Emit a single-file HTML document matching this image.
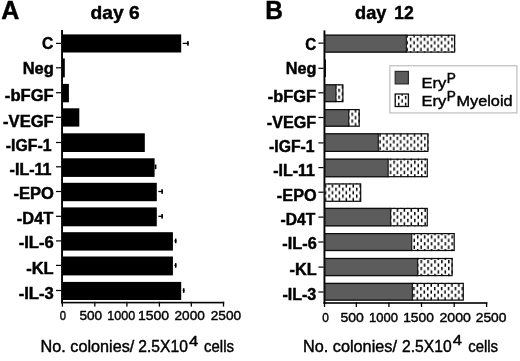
<!DOCTYPE html>
<html><head><meta charset="utf-8"><title>Figure</title>
<style>html,body{margin:0;padding:0;background:#fff}svg{display:block}text{font-family:"Liberation Sans",sans-serif}</style></head><body>
<svg width="520" height="361" viewBox="0 0 520 361">
<rect width="520" height="361" fill="#fff"/>
<filter id="soft" x="0" y="0" width="520" height="361" filterUnits="userSpaceOnUse"><feGaussianBlur stdDeviation="0.4"/></filter>
<g filter="url(#soft)">
<rect width="520" height="361" fill="#fff"/>
<rect x="61.10" y="30.00" width="1.9" height="273.40" fill="#000"/>
<rect x="61.10" y="301.80" width="163.10" height="1.6" fill="#000"/>
<rect x="61.75" y="301.80" width="1.3" height="4.8" fill="#000"/>
<rect x="94.15" y="301.80" width="1.3" height="4.8" fill="#000"/>
<rect x="126.25" y="301.80" width="1.3" height="4.8" fill="#000"/>
<rect x="158.75" y="301.80" width="1.3" height="4.8" fill="#000"/>
<rect x="190.65" y="301.80" width="1.3" height="4.8" fill="#000"/>
<rect x="222.85" y="301.80" width="1.3" height="4.8" fill="#000"/>
<rect x="56.00" y="42.80" width="5.2" height="1.2" fill="#000"/>
<rect x="56.00" y="67.20" width="5.2" height="1.2" fill="#000"/>
<rect x="56.00" y="92.10" width="5.2" height="1.2" fill="#000"/>
<rect x="56.00" y="116.70" width="5.2" height="1.2" fill="#000"/>
<rect x="56.00" y="141.90" width="5.2" height="1.2" fill="#000"/>
<rect x="56.00" y="166.20" width="5.2" height="1.2" fill="#000"/>
<rect x="56.00" y="190.90" width="5.2" height="1.2" fill="#000"/>
<rect x="56.00" y="215.70" width="5.2" height="1.2" fill="#000"/>
<rect x="56.00" y="240.30" width="5.2" height="1.2" fill="#000"/>
<rect x="56.00" y="264.80" width="5.2" height="1.2" fill="#000"/>
<rect x="56.00" y="289.90" width="5.2" height="1.2" fill="#000"/>
<rect x="62.00" y="34.40" width="119.20" height="18.10" fill="#000"/>
<rect x="182.70" y="42.75" width="6.00" height="1.3" fill="#000"/>
<rect x="187.10" y="41.10" width="1.6" height="4.6" fill="#000"/>
<rect x="62.00" y="58.40" width="2.80" height="19.00" fill="#000"/>
<rect x="62.00" y="83.90" width="6.90" height="18.40" fill="#000"/>
<rect x="62.00" y="108.30" width="17.30" height="18.30" fill="#000"/>
<rect x="62.00" y="133.30" width="82.80" height="18.70" fill="#000"/>
<rect x="62.00" y="158.30" width="92.60" height="18.60" fill="#000"/>
<rect x="154.80" y="164.50" width="1.6" height="4.6" fill="#000"/>
<rect x="62.00" y="182.80" width="94.80" height="18.40" fill="#000"/>
<rect x="158.30" y="190.85" width="4.60" height="1.3" fill="#000"/>
<rect x="161.30" y="189.20" width="1.6" height="4.6" fill="#000"/>
<rect x="62.00" y="207.40" width="94.80" height="18.90" fill="#000"/>
<rect x="158.30" y="215.65" width="4.60" height="1.3" fill="#000"/>
<rect x="161.30" y="214.00" width="1.6" height="4.6" fill="#000"/>
<rect x="62.00" y="232.20" width="110.90" height="18.40" fill="#000"/>
<rect x="174.40" y="240.25" width="2.10" height="1.3" fill="#000"/>
<rect x="174.90" y="238.60" width="1.6" height="4.6" fill="#000"/>
<rect x="62.00" y="256.50" width="110.90" height="18.90" fill="#000"/>
<rect x="174.40" y="264.75" width="2.10" height="1.3" fill="#000"/>
<rect x="174.90" y="263.10" width="1.6" height="4.6" fill="#000"/>
<rect x="62.00" y="281.90" width="119.20" height="18.10" fill="#000"/>
<rect x="182.70" y="289.85" width="1.80" height="1.3" fill="#000"/>
<rect x="182.90" y="288.20" width="1.6" height="4.6" fill="#000"/>
<text transform="translate(41.90,49.10) scale(1.0031,1)" font-size="15.60" font-weight="bold" fill="#000" stroke="#000" stroke-width="0.45">C</text>
<text transform="translate(22.71,73.60) scale(1.0574,1)" font-size="15.60" font-weight="bold" fill="#000" stroke="#000" stroke-width="0.45">Neg</text>
<text transform="translate(4.86,100.70) scale(1.0652,1)" font-size="15.60" font-weight="bold" fill="#000" stroke="#000" stroke-width="0.45">-bFGF</text>
<text transform="translate(3.06,127.00) scale(1.0637,1)" font-size="15.60" font-weight="bold" fill="#000" stroke="#000" stroke-width="0.45">-VEGF</text>
<text transform="translate(5.79,151.00) scale(1.0150,1)" font-size="15.60" font-weight="bold" fill="#000" stroke="#000" stroke-width="0.45">-IGF-1</text>
<text transform="translate(9.58,174.80) scale(1.0299,1)" font-size="15.60" font-weight="bold" fill="#000" stroke="#000" stroke-width="0.45">-IL-11</text>
<text transform="translate(13.46,199.30) scale(1.0596,1)" font-size="15.60" font-weight="bold" fill="#000" stroke="#000" stroke-width="0.45">-EPO</text>
<text transform="translate(16.87,224.30) scale(1.0519,1)" font-size="15.60" font-weight="bold" fill="#000" stroke="#000" stroke-width="0.45">-D4T</text>
<text transform="translate(18.66,248.20) scale(1.0663,1)" font-size="15.60" font-weight="bold" fill="#000" stroke="#000" stroke-width="0.45">-IL-6</text>
<text transform="translate(26.16,273.90) scale(1.0590,1)" font-size="15.60" font-weight="bold" fill="#000" stroke="#000" stroke-width="0.45">-KL</text>
<text transform="translate(18.66,299.30) scale(1.0663,1)" font-size="15.60" font-weight="bold" fill="#000" stroke="#000" stroke-width="0.45">-IL-3</text>
<text transform="translate(59.76,320.40) scale(0.8346,1)" font-size="13.50" fill="#000" stroke="#000" stroke-width="0.42">0</text>
<text transform="translate(79.46,320.40) scale(1.0100,1)" font-size="13.50" fill="#000" stroke="#000" stroke-width="0.42">500</text>
<text transform="translate(107.37,320.40) scale(0.9296,1)" font-size="13.50" fill="#000" stroke="#000" stroke-width="0.42">1000</text>
<text transform="translate(137.96,320.40) scale(1.0384,1)" font-size="13.50" fill="#000" stroke="#000" stroke-width="0.42">1500</text>
<text transform="translate(174.53,320.40) scale(1.0089,1)" font-size="13.50" fill="#000" stroke="#000" stroke-width="0.42">2000</text>
<text transform="translate(210.73,320.40) scale(1.0124,1)" font-size="13.50" fill="#000" stroke="#000" stroke-width="0.42">2500</text>
<text transform="translate(40.57,351.80) scale(1.0145,1)" font-size="16.00" fill="#000" stroke="#000" stroke-width="0.42">No. colonies/</text>
<text transform="translate(138.33,351.80) scale(0.9777,1)" font-size="16.00" fill="#000" stroke="#000" stroke-width="0.42">2.5X10</text>
<text transform="translate(189.04,345.80) scale(1.1604,1)" font-size="14.30" fill="#000" stroke="#000" stroke-width="0.42">4</text>
<text transform="translate(204.07,351.80) scale(0.9356,1)" font-size="16.00" fill="#000" stroke="#000" stroke-width="0.42">cells</text>
<text transform="translate(1.20,18.70) scale(1.0000,1)" font-size="25.00" font-weight="bold" fill="#000" stroke="#000" stroke-width="0.45">A</text>
<text transform="translate(90.56,18.90) scale(1.0557,1)" font-size="18.20" font-weight="bold" fill="#000" stroke="#000" stroke-width="0.45">day 6</text>
<rect x="323.50" y="30.40" width="1.9" height="273.40" fill="#000"/>
<rect x="323.50" y="302.20" width="163.80" height="1.6" fill="#000"/>
<rect x="323.85" y="302.20" width="1.3" height="4.8" fill="#000"/>
<rect x="355.65" y="302.20" width="1.3" height="4.8" fill="#000"/>
<rect x="388.25" y="302.20" width="1.3" height="4.8" fill="#000"/>
<rect x="420.85" y="302.20" width="1.3" height="4.8" fill="#000"/>
<rect x="453.55" y="302.20" width="1.3" height="4.8" fill="#000"/>
<rect x="485.95" y="302.20" width="1.3" height="4.8" fill="#000"/>
<rect x="318.40" y="42.50" width="5.2" height="1.2" fill="#000"/>
<rect x="318.40" y="67.70" width="5.2" height="1.2" fill="#000"/>
<rect x="318.40" y="92.20" width="5.2" height="1.2" fill="#000"/>
<rect x="318.40" y="116.90" width="5.2" height="1.2" fill="#000"/>
<rect x="318.40" y="142.30" width="5.2" height="1.2" fill="#000"/>
<rect x="318.40" y="167.00" width="5.2" height="1.2" fill="#000"/>
<rect x="318.40" y="191.60" width="5.2" height="1.2" fill="#000"/>
<rect x="318.40" y="216.50" width="5.2" height="1.2" fill="#000"/>
<rect x="318.40" y="241.40" width="5.2" height="1.2" fill="#000"/>
<rect x="318.40" y="266.50" width="5.2" height="1.2" fill="#000"/>
<rect x="318.40" y="291.40" width="5.2" height="1.2" fill="#000"/>
<pattern id="d0" patternUnits="userSpaceOnUse" x="409.85" y="37.65" width="6.90" height="6.82"><rect x="0" y="0" width="1.50" height="3.30" fill="#000"/><rect x="3.45" y="3.41" width="1.50" height="3.30" fill="#000"/></pattern>
<rect x="406.30" y="34.60" width="48.90" height="18.10" fill="#fff"/>
<rect x="406.30" y="34.60" width="48.90" height="18.10" fill="url(#d0)"/>
<rect x="324.90" y="34.60" width="81.40" height="18.10" fill="#5c5c5c"/>
<rect x="405.68" y="34.60" width="1.25" height="18.10" fill="#1a1a1a"/>
<rect x="324.90" y="35.23" width="129.68" height="16.85" fill="none" stroke="#111" stroke-width="1.25"/>
<rect x="324.40" y="59.60" width="1.50" height="17.40" fill="#000"/>
<pattern id="d2" patternUnits="userSpaceOnUse" x="338.35" y="88.75" width="6.90" height="6.82"><rect x="0" y="0" width="1.50" height="3.30" fill="#000"/><rect x="3.45" y="3.41" width="1.50" height="3.30" fill="#000"/></pattern>
<rect x="335.90" y="84.20" width="7.60" height="18.00" fill="#fff"/>
<rect x="335.90" y="84.20" width="7.60" height="18.00" fill="url(#d2)"/>
<rect x="324.90" y="84.20" width="11.00" height="18.00" fill="#5c5c5c"/>
<rect x="335.27" y="84.20" width="1.25" height="18.00" fill="#1a1a1a"/>
<rect x="324.90" y="84.83" width="17.98" height="16.75" fill="none" stroke="#111" stroke-width="1.25"/>
<pattern id="d3" patternUnits="userSpaceOnUse" x="351.45" y="112.65" width="6.90" height="6.82"><rect x="0" y="0" width="1.50" height="3.30" fill="#000"/><rect x="3.45" y="3.41" width="1.50" height="3.30" fill="#000"/></pattern>
<rect x="348.70" y="109.00" width="11.10" height="17.80" fill="#fff"/>
<rect x="348.70" y="109.00" width="11.10" height="17.80" fill="url(#d3)"/>
<rect x="324.90" y="109.00" width="23.80" height="17.80" fill="#5c5c5c"/>
<rect x="348.07" y="109.00" width="1.25" height="17.80" fill="#1a1a1a"/>
<rect x="324.90" y="109.62" width="34.28" height="16.55" fill="none" stroke="#111" stroke-width="1.25"/>
<pattern id="d4" patternUnits="userSpaceOnUse" x="382.75" y="136.75" width="6.90" height="6.82"><rect x="0" y="0" width="1.50" height="3.30" fill="#000"/><rect x="3.45" y="3.41" width="1.50" height="3.30" fill="#000"/></pattern>
<rect x="378.30" y="133.20" width="50.20" height="18.80" fill="#fff"/>
<rect x="378.30" y="133.20" width="50.20" height="18.80" fill="url(#d4)"/>
<rect x="324.90" y="133.20" width="53.40" height="18.80" fill="#5c5c5c"/>
<rect x="377.68" y="133.20" width="1.25" height="18.80" fill="#1a1a1a"/>
<rect x="324.90" y="133.82" width="102.98" height="17.55" fill="none" stroke="#111" stroke-width="1.25"/>
<pattern id="d5" patternUnits="userSpaceOnUse" x="393.35" y="160.55" width="6.90" height="6.82"><rect x="0" y="0" width="1.50" height="3.30" fill="#000"/><rect x="3.45" y="3.41" width="1.50" height="3.30" fill="#000"/></pattern>
<rect x="388.10" y="158.60" width="39.80" height="18.70" fill="#fff"/>
<rect x="388.10" y="158.60" width="39.80" height="18.70" fill="url(#d5)"/>
<rect x="324.90" y="158.60" width="63.20" height="18.70" fill="#5c5c5c"/>
<rect x="387.48" y="158.60" width="1.25" height="18.70" fill="#1a1a1a"/>
<rect x="324.90" y="159.22" width="102.38" height="17.45" fill="none" stroke="#111" stroke-width="1.25"/>
<pattern id="d6" patternUnits="userSpaceOnUse" x="328.35" y="187.65" width="6.90" height="6.82"><rect x="0" y="0" width="1.50" height="3.30" fill="#000"/><rect x="3.45" y="3.41" width="1.50" height="3.30" fill="#000"/></pattern>
<rect x="324.90" y="183.30" width="36.40" height="18.60" fill="#fff"/>
<rect x="324.90" y="183.30" width="36.40" height="18.60" fill="url(#d6)"/>
<rect x="324.90" y="183.93" width="35.78" height="17.35" fill="none" stroke="#111" stroke-width="1.25"/>
<pattern id="d7" patternUnits="userSpaceOnUse" x="393.35" y="211.95" width="6.90" height="6.82"><rect x="0" y="0" width="1.50" height="3.30" fill="#000"/><rect x="3.45" y="3.41" width="1.50" height="3.30" fill="#000"/></pattern>
<rect x="390.60" y="207.80" width="37.30" height="18.60" fill="#fff"/>
<rect x="390.60" y="207.80" width="37.30" height="18.60" fill="url(#d7)"/>
<rect x="324.90" y="207.80" width="65.70" height="18.60" fill="#5c5c5c"/>
<rect x="389.98" y="207.80" width="1.25" height="18.60" fill="#1a1a1a"/>
<rect x="324.90" y="208.43" width="102.38" height="17.35" fill="none" stroke="#111" stroke-width="1.25"/>
<pattern id="d8" patternUnits="userSpaceOnUse" x="416.95" y="235.35" width="6.90" height="6.82"><rect x="0" y="0" width="1.50" height="3.30" fill="#000"/><rect x="3.45" y="3.41" width="1.50" height="3.30" fill="#000"/></pattern>
<rect x="411.70" y="233.00" width="43.10" height="18.10" fill="#fff"/>
<rect x="411.70" y="233.00" width="43.10" height="18.10" fill="url(#d8)"/>
<rect x="324.90" y="233.00" width="86.80" height="18.10" fill="#5c5c5c"/>
<rect x="411.07" y="233.00" width="1.25" height="18.10" fill="#1a1a1a"/>
<rect x="324.90" y="233.62" width="129.28" height="16.85" fill="none" stroke="#111" stroke-width="1.25"/>
<pattern id="d9" patternUnits="userSpaceOnUse" x="420.45" y="260.05" width="6.90" height="6.82"><rect x="0" y="0" width="1.50" height="3.30" fill="#000"/><rect x="3.45" y="3.41" width="1.50" height="3.30" fill="#000"/></pattern>
<rect x="417.60" y="257.90" width="35.10" height="18.30" fill="#fff"/>
<rect x="417.60" y="257.90" width="35.10" height="18.30" fill="url(#d9)"/>
<rect x="324.90" y="257.90" width="92.70" height="18.30" fill="#5c5c5c"/>
<rect x="416.98" y="257.90" width="1.25" height="18.30" fill="#1a1a1a"/>
<rect x="324.90" y="258.52" width="127.18" height="17.05" fill="none" stroke="#111" stroke-width="1.25"/>
<pattern id="d10" patternUnits="userSpaceOnUse" x="420.15" y="286.95" width="6.90" height="6.82"><rect x="0" y="0" width="1.50" height="3.30" fill="#000"/><rect x="3.45" y="3.41" width="1.50" height="3.30" fill="#000"/></pattern>
<rect x="412.40" y="282.80" width="51.50" height="17.90" fill="#fff"/>
<rect x="412.40" y="282.80" width="51.50" height="17.90" fill="url(#d10)"/>
<rect x="324.90" y="282.80" width="87.50" height="17.90" fill="#5c5c5c"/>
<rect x="411.77" y="282.80" width="1.25" height="17.90" fill="#1a1a1a"/>
<rect x="324.90" y="283.43" width="138.38" height="16.65" fill="none" stroke="#111" stroke-width="1.25"/>
<text transform="translate(305.22,49.50) scale(0.9738,1)" font-size="15.60" font-weight="bold" fill="#000" stroke="#000" stroke-width="0.45">C</text>
<text transform="translate(285.83,74.20) scale(1.0428,1)" font-size="15.60" font-weight="bold" fill="#000" stroke="#000" stroke-width="0.45">Neg</text>
<text transform="translate(267.87,101.90) scale(1.0496,1)" font-size="15.60" font-weight="bold" fill="#000" stroke="#000" stroke-width="0.45">-bFGF</text>
<text transform="translate(266.78,128.30) scale(1.0336,1)" font-size="15.60" font-weight="bold" fill="#000" stroke="#000" stroke-width="0.45">-VEGF</text>
<text transform="translate(269.09,152.00) scale(1.0104,1)" font-size="15.60" font-weight="bold" fill="#000" stroke="#000" stroke-width="0.45">-IGF-1</text>
<text transform="translate(273.19,175.50) scale(1.0249,1)" font-size="15.60" font-weight="bold" fill="#000" stroke="#000" stroke-width="0.45">-IL-11</text>
<text transform="translate(276.87,200.50) scale(1.0433,1)" font-size="15.60" font-weight="bold" fill="#000" stroke="#000" stroke-width="0.45">-EPO</text>
<text transform="translate(280.60,225.30) scale(0.9988,1)" font-size="15.60" font-weight="bold" fill="#000" stroke="#000" stroke-width="0.45">-D4T</text>
<text transform="translate(282.37,249.20) scale(1.0442,1)" font-size="15.60" font-weight="bold" fill="#000" stroke="#000" stroke-width="0.45">-IL-6</text>
<text transform="translate(289.57,274.90) scale(1.0429,1)" font-size="15.60" font-weight="bold" fill="#000" stroke="#000" stroke-width="0.45">-KL</text>
<text transform="translate(282.38,300.20) scale(1.0316,1)" font-size="15.60" font-weight="bold" fill="#000" stroke="#000" stroke-width="0.45">-IL-3</text>
<text transform="translate(322.33,321.70) scale(0.8811,1)" font-size="13.50" fill="#000" stroke="#000" stroke-width="0.42">0</text>
<text transform="translate(340.45,321.70) scale(1.0380,1)" font-size="13.50" fill="#000" stroke="#000" stroke-width="0.42">500</text>
<text transform="translate(368.93,321.70) scale(0.9647,1)" font-size="13.50" fill="#000" stroke="#000" stroke-width="0.42">1000</text>
<text transform="translate(403.18,321.70) scale(1.0209,1)" font-size="13.50" fill="#000" stroke="#000" stroke-width="0.42">1500</text>
<text transform="translate(439.51,321.70) scale(1.0436,1)" font-size="13.50" fill="#000" stroke="#000" stroke-width="0.42">2000</text>
<text transform="translate(475.72,321.70) scale(1.0263,1)" font-size="13.50" fill="#000" stroke="#000" stroke-width="0.42">2500</text>
<text transform="translate(302.97,351.80) scale(1.0167,1)" font-size="16.00" fill="#000" stroke="#000" stroke-width="0.42">No. colonies/</text>
<text transform="translate(402.03,351.80) scale(0.9777,1)" font-size="16.00" fill="#000" stroke="#000" stroke-width="0.42">2.5X10</text>
<text transform="translate(452.74,345.40) scale(1.1604,1)" font-size="14.30" fill="#000" stroke="#000" stroke-width="0.42">4</text>
<text transform="translate(468.17,351.80) scale(0.9356,1)" font-size="16.00" fill="#000" stroke="#000" stroke-width="0.42">cells</text>
<text transform="translate(265.37,18.80) scale(0.9803,1)" font-size="25.00" font-weight="bold" fill="#000" stroke="#000" stroke-width="0.45">B</text>
<text transform="translate(355.10,18.90) scale(1.0006,1)" font-size="18.20" font-weight="bold" fill="#000" stroke="#000" stroke-width="0.45">day</text>
<text transform="translate(394.32,18.90) scale(0.9680,1)" font-size="18.20" font-weight="bold" fill="#000" stroke="#000" stroke-width="0.45">12</text>
<rect x="389.9" y="65.8" width="127.0" height="47.1" fill="#fff" stroke="#b8b8b8" stroke-width="1.1"/>
<rect x="395.2" y="71.4" width="13.2" height="12.5" fill="#5c5c5c" stroke="#2a2a2a" stroke-width="1.2"/>
<pattern id="dl" patternUnits="userSpaceOnUse" x="397.95" y="95.85" width="6.90" height="6.82"><rect x="0" y="0" width="1.50" height="3.30" fill="#000"/><rect x="3.45" y="3.41" width="1.50" height="3.30" fill="#000"/></pattern>
<rect x="395.2" y="94.0" width="13.2" height="12.5" fill="#fff"/>
<rect x="395.2" y="94.0" width="13.2" height="12.5" fill="url(#dl)" stroke="#111" stroke-width="1.3"/>
<text transform="translate(421.45,87.60) scale(1.0660,1)" font-size="15.50" fill="#000" stroke="#000" stroke-width="0.42">Ery</text>
<text transform="translate(446.68,82.80) scale(0.9765,1)" font-size="14.00" fill="#000" stroke="#000" stroke-width="0.42">P</text>
<text transform="translate(421.45,105.90) scale(1.0660,1)" font-size="15.50" fill="#000" stroke="#000" stroke-width="0.42">Ery</text>
<text transform="translate(446.68,100.90) scale(0.9765,1)" font-size="14.00" fill="#000" stroke="#000" stroke-width="0.42">P</text>
<text transform="translate(456.47,105.90) scale(1.0514,1)" font-size="15.50" fill="#000" stroke="#000" stroke-width="0.42">Myeloid</text>
</g></svg></body></html>
